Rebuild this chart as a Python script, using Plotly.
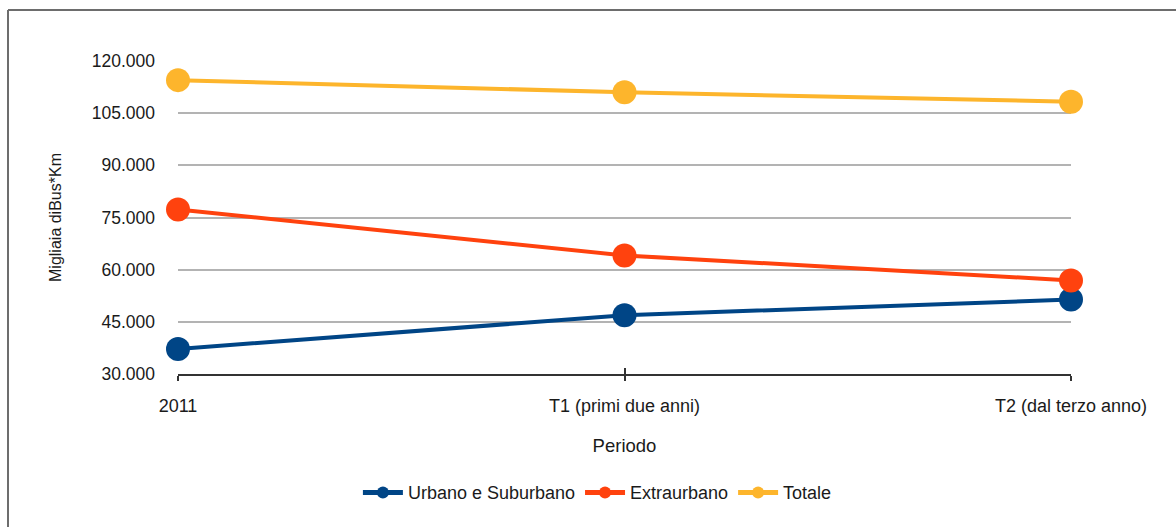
import plotly.graph_objects as go

# Periodi e migliaia di bus*km per tipo di servizio
periodi = ["2011", "T1 (primi due anni)", "T2 (dal terzo anno)"]
urbano = [37200, 46900, 51400]
extraurbano = [77300, 64100, 56900]
totale = [114500, 111000, 108300]

serie = [
    ("Urbano e Suburbano", urbano, "#004586"),
    ("Extraurbano", extraurbano, "#ff420e"),
    ("Totale", totale, "#fdb52c"),
]

fig = go.Figure()
for nome, valori, colore in serie:
    fig.add_trace(go.Scatter(
        x=periodi, y=valori, name=nome, mode="lines+markers",
        line=dict(color=colore, width=4),
        marker=dict(color=colore, size=24),
        cliponaxis=False,
    ))

# Overlay axis used only to draw the inward half of the category ticks
fig.add_trace(go.Scatter(x=[0, 2], y=[None, None], xaxis="x2", showlegend=False,
                         hoverinfo="skip"))

font = "Liberation Sans, Arial, sans-serif"
fig.update_layout(
    width=1176, height=527,
    paper_bgcolor="white", plot_bgcolor="white",
    margin=dict(l=178, r=105, t=61, b=153),
    separators=",.",
    font=dict(family=font, size=17, color="#1a1a1a"),
    showlegend=True,
    legend=dict(orientation="h", xref="container", yref="container",
                x=0.508, xanchor="center", y=0.065, yanchor="middle",
                font=dict(size=18), itemsizing="constant", itemwidth=40,
                tracegroupgap=0),
    xaxis=dict(
        type="category", range=[0, 2], showgrid=False,
        showline=True, linecolor="#333333", linewidth=1.5,
        ticks="outside", ticklen=5, tickcolor="#333333", tickwidth=1.5,
        tickfont=dict(size=18), ticklabelstandoff=10,
        title=dict(text="Periodo", font=dict(size=18.5), standoff=24),
        zeroline=False,
    ),
    xaxis2=dict(
        overlaying="x", range=[0, 2], tickvals=[0, 1, 2],
        showticklabels=False, ticks="inside", ticklen=6,
        tickcolor="#333333", tickwidth=1.5, showgrid=False,
        showline=False, zeroline=False,
    ),
    yaxis=dict(
        range=[30000, 120000], tickvals=[30000, 45000, 60000, 75000, 90000, 105000, 120000],
        tickformat=",.0f", showgrid=True, gridcolor="#b3b3b3", gridwidth=1.5,
        showline=False, zeroline=False, ticks="", ticklabelstandoff=22,
        tickfont=dict(size=17.5),
        title=dict(text="Migliaia diBus*Km", font=dict(size=16), standoff=26),
    ),
)

# Cornice del grafico (bordo superiore e sinistro)
fig.add_shape(type="line", xref="paper", yref="paper",
              x0=-170 / 893, x1=1.2, y0=1 + 51 / 313, y1=1 + 51 / 313,
              line=dict(color="#6d6d6d", width=2))
fig.add_shape(type="line", xref="paper", yref="paper",
              x0=-170 / 893, x1=-170 / 893, y0=1 + 51 / 313, y1=-0.6,
              line=dict(color="#6d6d6d", width=2))

fig.write_html("out.html")
